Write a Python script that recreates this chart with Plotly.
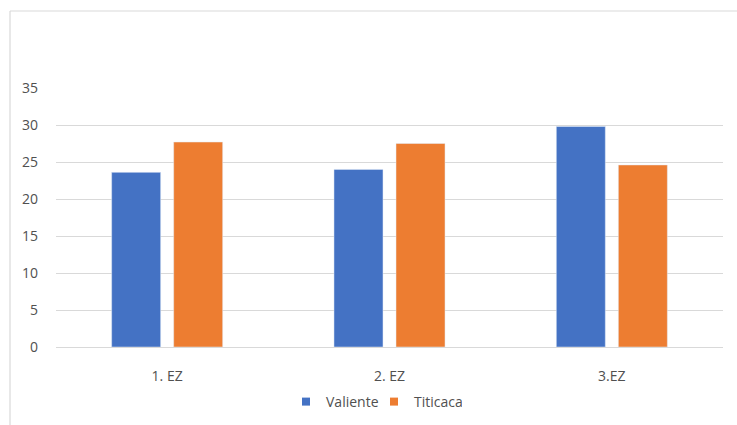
import plotly.graph_objects as go

categories = ["1. EZ", "2. EZ", "3.EZ"]
valiente = [23.6, 24.0, 29.8]
titicaca = [27.7, 27.5, 24.6]
y_ticks = [0, 5, 10, 15, 20, 25, 30, 35]

W, H = 737, 425
L, R, T, B = 56, 14, 88, 78
pw = W - L - R
ph = H - T - B

BLUE, ORANGE, TEXT, GRID = "#4472C4", "#ED7D31", "#505050", "#D9D9D9"
font = dict(family="Open Sans, Liberation Sans, sans-serif", size=14, color=TEXT)

fig = go.Figure()
fig.add_trace(go.Bar(name="Valiente", x=categories, y=valiente, marker=dict(color=BLUE), showlegend=False))
fig.add_trace(go.Bar(name="Titicaca", x=categories, y=titicaca, marker=dict(color=ORANGE), showlegend=False))
# legend entries with small square keys
for name, col in [("Valiente", BLUE), ("Titicaca", ORANGE)]:
    fig.add_trace(go.Scatter(name=name, x=[None], y=[None], mode="markers",
                             marker=dict(symbol="square", size=8, color=col)))

def px_x(x):
    return (x - L) / pw

def px_y(y):
    return (H - B - y) / ph

fig.update_layout(
    width=W, height=H,
    margin=dict(l=L, r=R, t=T, b=B),
    paper_bgcolor="white", plot_bgcolor="white",
    barmode="group", bargap=0.442, bargroupgap=0.21,
    font=font,
    showlegend=True,
    legend=dict(orientation="h", x=px_x(286), xanchor="left",
                yref="container", y=1 - 402 / H, yanchor="middle",
                font=dict(size=14, color=TEXT), itemwidth=30, traceorder="normal",
                entrywidth=43, entrywidthmode="pixels", tracegroupgap=0),
    xaxis=dict(showgrid=False, showline=False, zeroline=False, ticks="", automargin=False,
               ticklabelstandoff=19, tickfont=dict(size=14, color=TEXT)),
    yaxis=dict(range=[0, 35], tickvals=y_ticks, showgrid=True, gridcolor=GRID, gridwidth=1,
               zeroline=True, zerolinecolor=GRID, zerolinewidth=1, showline=False, automargin=False,
               ticks="", ticklabelstandoff=17, tickfont=dict(size=14, color=TEXT)),
    shapes=[
        dict(type="line", xref="paper", yref="paper", x0=px_x(10), x1=px_x(740), y0=px_y(11), y1=px_y(11),
             line=dict(color=GRID, width=1.2)),
        dict(type="line", xref="paper", yref="paper", x0=px_x(10), x1=px_x(10), y0=px_y(11), y1=px_y(430),
             line=dict(color=GRID, width=1.2)),
    ],
)

fig.write_html("out.html")
